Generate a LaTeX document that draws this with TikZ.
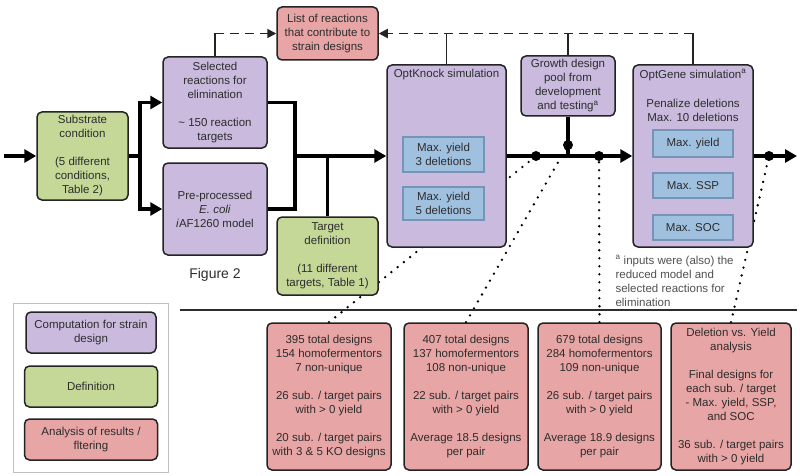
\documentclass[tikz,border=0pt]{standalone}
\usepackage{fontspec}
\setmainfont{Liberation Sans}
\usetikzlibrary{arrows.meta,calc}
\definecolor{cpurple}{RGB}{201,186,222}
\definecolor{cgreen}{RGB}{197,216,152}
\definecolor{cred}{RGB}{232,165,165}
\definecolor{cblue}{RGB}{160,192,224}
\definecolor{cblueb}{RGB}{118,148,184}
\definecolor{cborder}{RGB}{35,35,35}
\definecolor{ctext}{RGB}{45,45,45}
\definecolor{cnote}{RGB}{80,80,80}
\pgfdeclarelayer{bg}
\pgfsetlayers{bg,main}
\begin{document}
\begin{tikzpicture}[x=1pt,y=-1pt,
  txt/.style={font=\fontsize{11.5}{14}\selectfont, text=ctext},
  box/.style={txt, draw=cborder, line width=1.5pt, rounded corners=5pt, align=center, inner sep=0pt},
  pbox/.style={box, fill=cpurple},
  gbox/.style={box, fill=cgreen},
  rbox/.style={box, fill=cred},
  bbox/.style={txt, draw=cblueb, fill=cblue, line width=1.2pt, align=center, inner sep=0pt},
  flow/.style={line width=3.5pt, draw=black},
  farr/.style={flow, -{Triangle[length=12pt,width=13pt]}},
  solidl/.style={line width=1.8pt, draw=cborder},
  dsh/.style={line width=1.8pt, draw=cborder, dash pattern=on 9pt off 6pt, -{Triangle[length=9pt,width=9pt]}},
  dotl/.style={line width=2.6pt, line cap=round, dash pattern=on 0pt off 8pt, draw=black},
  dotn/.style={circle, fill=black, inner sep=0pt, minimum size=10pt}
]
\useasboundingbox (0,0) rectangle (800,476);

% ---------- top part boxes ----------
\node[gbox, minimum width=91pt, minimum height=88pt] (sub) at (82.5,156)
  {Substrate\\condition\\[14pt](5 different\\conditions,\\Table 2)};
\node[pbox, minimum width=104pt, minimum height=91pt] (sel) at (215,102.5)
  {Selected\\reactions for\\elimination\\[14pt]\textasciitilde{} 150 reaction\\targets};
\node[pbox, minimum width=104pt, minimum height=92pt] (pre) at (215,209)
  {Pre-processed\\\textit{E. coli}\\\textit{i}AF1260 model};
\node[rbox, minimum width=101pt, minimum height=53pt] (list) at (327.5,33.5)
  {List of reactions\\that contribute to\\strain designs};
\node[gbox, minimum width=101pt, minimum height=78pt] (target) at (327.5,256)
  {Target\\definition\\[14pt](11 different\\targets, Table 1)};
\node[pbox, minimum width=119pt, minimum height=182pt] (optknock) at (446.5,156) {};
\node[txt] (oktitle) at (446.5,75) {OptKnock simulation};
\node[bbox, minimum width=81pt, minimum height=35pt] (ok3) at (443.5,154.5) {Max. yield\\3 deletions};
\node[bbox, minimum width=81pt, minimum height=33pt] (ok5) at (443.5,203.5) {Max. yield\\5 deletions};
\node[pbox, minimum width=94pt, minimum height=60pt] (growth) at (568,86)
  {Growth design\\pool from\\development\\and testing\textsuperscript{a}};
\node[pbox, minimum width=120pt, minimum height=182pt] (optgene) at (693,156) {};
\node[txt] (ogtitle) at (693,75) {OptGene simulation\textsuperscript{a}};
\node[txt, align=center] (pen) at (693,110) {Penalize deletions\\Max. 10 deletions};
\node[bbox, minimum width=80pt, minimum height=27pt] (gy) at (693,143.5) {Max. yield};
\node[bbox, minimum width=80pt, minimum height=25pt] (gs) at (693,185.5) {Max. SSP};
\node[bbox, minimum width=80pt, minimum height=25pt] (gc) at (693,227.5) {Max. SOC};
\node[txt, text=cnote, align=left, anchor=north west] (note) at (612,252)
  {\textsuperscript{a} inputs were (also) the\\reduced model and\\selected reactions for\\elimination};
\node[font=\fontsize{14}{16}\selectfont, text=ctext] (fig) at (215,275) {Figure 2};

% ---------- bottom boxes ----------
\node[rbox, minimum width=124pt, minimum height=147pt] (b1) at (329,396.5)
  {395 total designs\\154 homofermentors\\7 non-unique\\[14pt]26 sub. / target pairs\\with > 0 yield\\[14pt]20 sub. / target pairs\\with 3 \& 5 KO designs};
\node[rbox, minimum width=124pt, minimum height=147pt] (b2) at (466,396.5)
  {407 total designs\\137 homofermentors\\108 non-unique\\[14pt]22 sub. / target pairs\\with > 0 yield\\[14pt]Average 18.5 designs\\per pair};
\node[rbox, minimum width=123pt, minimum height=147pt] (b3) at (599.5,396.5)
  {679 total designs\\284 homofermentors\\109 non-unique\\[14pt]26 sub. / target pairs\\with > 0 yield\\[14pt]Average 18.9 designs\\per pair};
\node[rbox, minimum width=120pt, minimum height=147pt] (b4) at (731,396.5)
  {Deletion vs. Yield\\analysis\\[14pt]Final designs for\\each sub. / target\\- Max. yield, SSP,\\and SOC\\[14pt]36 sub. / target pairs\\with > 0 yield};

% ---------- legend ----------
\draw[draw=black!25, line width=1pt] (13,303) rectangle (168,472);
\node[pbox, minimum width=130pt, minimum height=41pt] (leg1) at (91,332.5) {Computation for strain\\design};
\node[gbox, minimum width=133pt, minimum height=41pt] (leg2) at (91,386.5) {Definition};
\node[rbox, minimum width=133pt, minimum height=41pt] (leg3) at (91,439.5) {Analysis of results /\\fltering};

% separator
\draw[line width=1.3pt, draw=ctext] (180,310) -- (797,310);

% ---------- dots on the main line ----------
\node[dotn] (dA) at (536,156) {};
\node[dotn] (dG) at (568,145) {};
\node[dotn] (dB) at (599,156) {};
\node[dotn] (dC) at (769,156) {};

% ---------- flow connectors ----------
\coordinate (instart) at (4,156);
\coordinate (fork) at (140,156);
\coordinate (join) at (295,156);
\coordinate (outend) at (797,156);
\draw[farr] (instart) -- (sub.west);
\draw[flow] (sub.east) -- (fork);
\draw[farr] (fork) |- (sel.west);
\draw[farr] (fork) |- (pre.west);
\draw[flow] (sel.east) -| (join);
\draw[flow] (pre.east) -| (join);
\draw[farr] (join) -- (optknock.west);
\draw[flow] (target.north) -- (target.north |- join);
\draw[farr] (optknock.east) -- (optgene.west);
\draw[flow] (growth.south) -- (growth.south |- optgene.west);
\draw[farr] (optgene.east) -- (outend);

% ---------- dashed feedback ----------
\coordinate (dl) at (215,33.5);
\coordinate (dr) at (693,33.5);
\draw[solidl] (sel.north) -- (dl);
\draw[dsh] (dl) -- (list.west);
\draw[solidl] (optknock.north) -- (optknock.north |- dr);
\draw[solidl] (growth.north) -- (growth.north |- dr);
\draw[solidl] (optgene.north) -- (dr);
\draw[dsh] (dr) -- (list.east);

% ---------- dotted links (behind boxes) ----------
\begin{pgfonlayer}{bg}
\draw[dotl] (b1.north) -- (dA.center);
\draw[dotl] (b2.north) -- (dG.center);
\draw[dotl] (b3.north) -- (dB.center);
\draw[dotl] (b4.north) -- (dC.center);
\end{pgfonlayer}
\end{tikzpicture}
\end{document}
